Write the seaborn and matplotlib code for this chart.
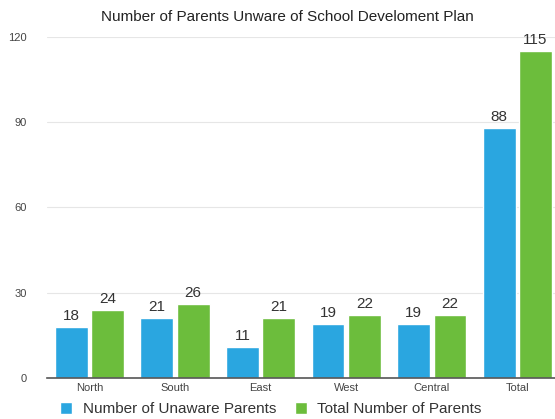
import numpy as np
import pandas as pd
import matplotlib
matplotlib.use("Agg")
import matplotlib.pyplot as plt
import seaborn as sns

regions = ["North", "South", "East", "West", "Central", "Total"]
unaware = [18, 21, 11, 19, 19, 88]
total = [24, 26, 21, 22, 22, 115]
series_names = ["Number of Unaware Parents", "Total Number of Parents"]
y_ticks = [0, 30, 60, 90, 120]

BLUE = "#2aa6e0"
GREEN = "#6cbd3c"

sns.set_theme(style="white")
plt.rcParams["font.family"] = ["Liberation Sans", "DejaVu Sans"]

df = pd.DataFrame({
    "region": regions * 2,
    "value": unaware + total,
    "series": [series_names[0]] * len(regions) + [series_names[1]] * len(regions),
})

fig = plt.figure(figsize=(5.55, 4.19), dpi=100)
ax = fig.add_axes([0.084, 0.098, 0.916, 0.814])

sns.barplot(data=df, x="region", y="value", hue="series",
            palette=[BLUE, GREEN], width=0.85, gap=0.1, ax=ax,
            saturation=1, legend=True)

for cont in ax.containers:
    ax.bar_label(cont, padding=3, fontsize=11, color="#333333", clip_on=False)

ax.set_ylim(0, 120)
ax.set_xlim(-0.5, 5.44)
ax.set_yticks(y_ticks)
ax.yaxis.grid(True, color="#e6e6e6", lw=0.8)
ax.set_axisbelow(True)
for s in ["top", "right", "left"]:
    ax.spines[s].set_visible(False)
ax.spines["bottom"].set_color("#555555")
ax.spines["bottom"].set_linewidth(1.2)
ax.tick_params(axis="both", length=0, labelsize=8, labelcolor="#444444")
ax.tick_params(axis="y", pad=14)
ax.set_xlabel("")
ax.set_ylabel("")

fig.suptitle("Number of Parents Unware of School Develoment Plan",
             x=0.518, y=0.975, fontsize=11, color="#222222")

handles, labels = ax.get_legend_handles_labels()
ax.get_legend().remove()
fig.legend(handles, labels, loc="center", bbox_to_anchor=(0.488, 0.024),
           ncol=2, frameon=False, fontsize=11, handlelength=0.8, handleheight=0.8,
           columnspacing=1.2, handletextpad=0.7, labelcolor="#333333",
           borderaxespad=0, borderpad=0)

plt.savefig("out.png", dpi=100)
